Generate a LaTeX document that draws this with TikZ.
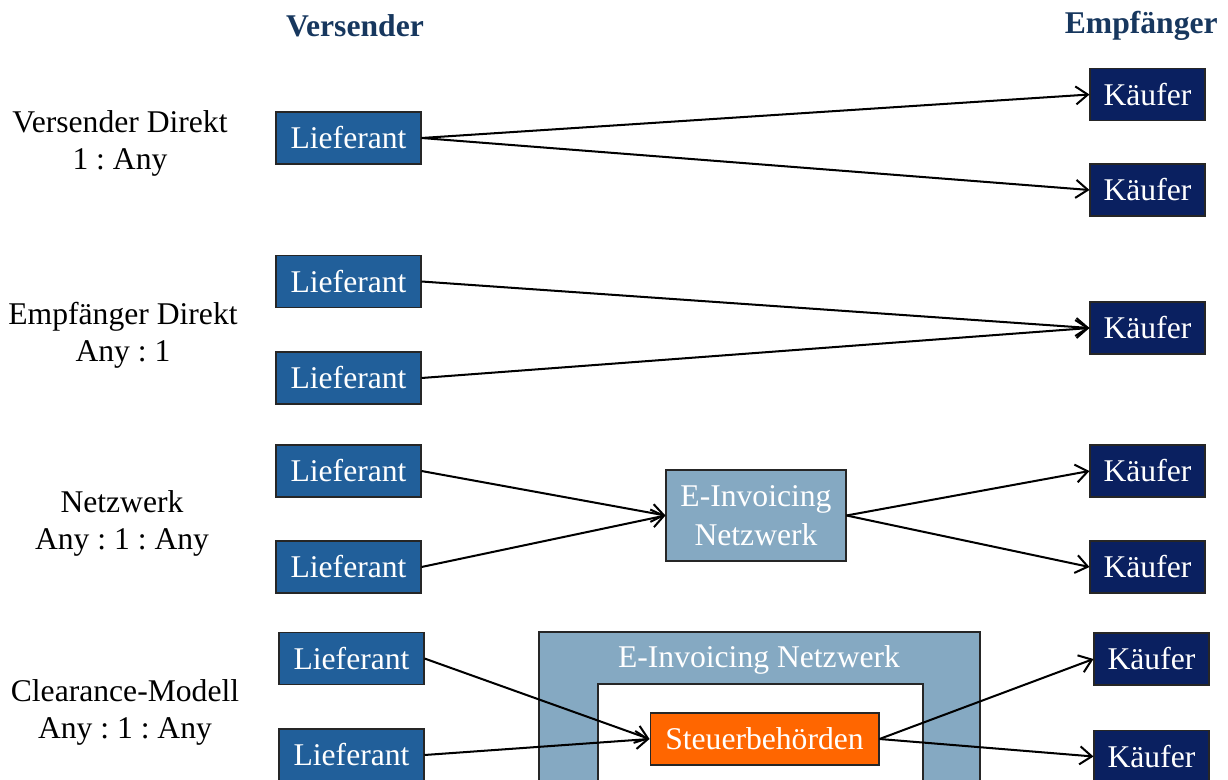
\documentclass[tikz,border=0pt]{standalone}
\usepackage{fontspec}
\setmainfont{Liberation Serif}
\usepackage{xcolor}
\usetikzlibrary{arrows.meta,positioning}
\definecolor{liefc}{HTML}{215F9A}
\definecolor{kaufc}{HTML}{0A2060}
\definecolor{netzc}{HTML}{85A9C2}
\definecolor{steuc}{HTML}{FF6600}
\definecolor{headc}{HTML}{17375E}
\tikzset{
  ar/.style={-{Straight Barb[length=2.4mm,width=3.6mm]},line width=1.15pt,black},
  box/.style={draw=black!85,line width=0.6pt,text=white,align=center,inner sep=2pt,minimum height=1.04cm,font=\fontsize{18}{21}\selectfont},
  lief/.style={box,fill=liefc,minimum width=2.9cm},
  kauf/.style={box,fill=kaufc,minimum width=2.3cm},
  lbl/.style={align=center,font=\fontsize{18}{21}\selectfont},
  head/.style={text=headc,font=\fontsize{18}{21}\selectfont\bfseries}
}
\frenchspacing
\begin{document}
\begin{tikzpicture}[x=0.02cm,y=-0.02cm]
\clip (0,0) rectangle (1228,780);
% headers
\node[head] (hvers) at (355,26) {Versender};
\node[head,anchor=east,inner xsep=0pt] (hempf) at (1218,26) {Empfänger};
% left labels
\node[lbl] (m1) at (120,143) {Versender Direkt\\1 : Any};
\node[lbl] (m2) at (123,335) {Empfänger Direkt\\Any : 1};
\node[lbl] (m3) at (122,523) {Netzwerk\\Any : 1 : Any};
\node[lbl] (m4) at (125,712) {Clearance-Modell\\Any : 1 : Any};
% Versender Direkt
\node[lief] (l1) at (348.5,138) {Lieferant};
\node[kauf] (k1a) at (1147.5,94.5) {Käufer};
\node[kauf] (k1b) at (1147.5,190) {Käufer};
\draw[ar] (l1.east) -- (k1a.west);
\draw[ar] (l1.east) -- (k1b.west);
% Empfaenger Direkt
\node[lief] (l2a) at (348.5,281.5) {Lieferant};
\node[lief] (l2b) at (348.5,378) {Lieferant};
\node[kauf] (k2) at (1147.5,328) {Käufer};
\draw[ar] (l2a.east) -- (k2.west);
\draw[ar] (l2b.east) -- (k2.west);
% Netzwerk
\node[lief] (l3a) at (348.5,471) {Lieferant};
\node[lief] (l3b) at (348.5,567) {Lieferant};
\node[box,fill=netzc,minimum width=3.6cm,minimum height=1.82cm,inner sep=1pt] (n3) at (756,515.5) {E-Invoicing\\[1pt]Netzwerk};
\node[kauf] (k3a) at (1147.5,471) {Käufer};
\node[kauf] (k3b) at (1147.5,567) {Käufer};
\draw[ar] (l3a.east) -- (n3.west);
\draw[ar] (l3b.east) -- (n3.west);
\draw[ar] (n3.east) -- (k3a.west);
\draw[ar] (n3.east) -- (k3b.west);
% Clearance-Modell
\draw[draw=black!85,line width=0.6pt,fill=netzc] (539,632) rectangle (980,820);
\draw[draw=black!85,line width=0.6pt,fill=white] (598,684) rectangle (923,820);
\node[text=white,font=\fontsize{18}{21}\selectfont] (n4) at (759,660) {E-Invoicing Netzwerk};
\node[box,fill=steuc,minimum width=4.58cm] (s4) at (764.5,739) {Steuerbehörden};
\node[lief] (l4a) at (351.5,658.5) {Lieferant};
\node[lief] (l4b) at (351.5,755) {Lieferant};
\node[kauf] (k4a) at (1151.5,659) {Käufer};
\node[kauf] (k4b) at (1151.5,756.5) {Käufer};
\draw[ar] (l4a.east) -- (s4.west);
\draw[ar] (l4b.east) -- (s4.west);
\draw[ar] (s4.east) -- (k4a.west);
\draw[ar] (s4.east) -- (k4b.west);
\end{tikzpicture}
\end{document}
